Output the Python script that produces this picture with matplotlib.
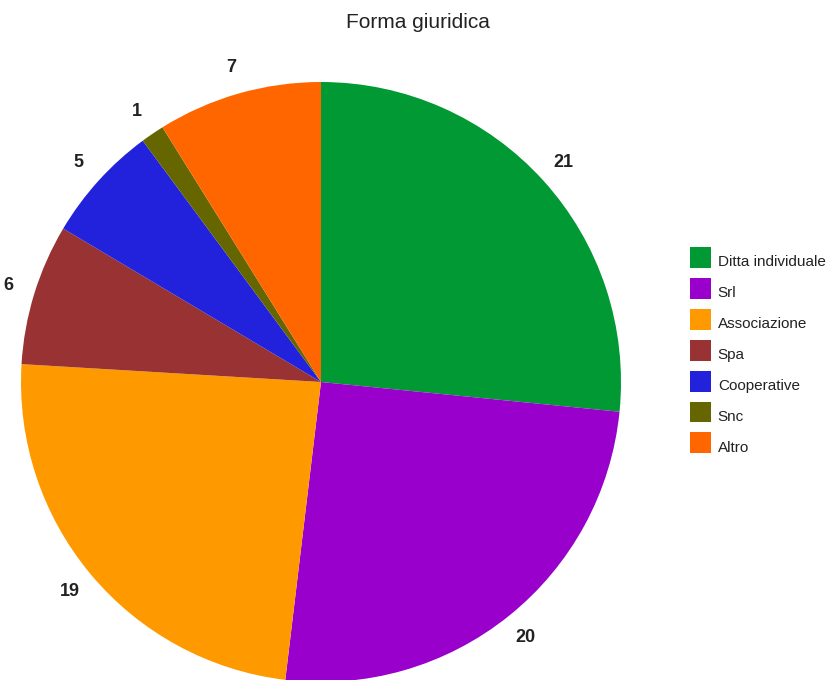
import matplotlib.pyplot as plt
from matplotlib.patches import Patch
from matplotlib.transforms import ScaledTranslation

plt.rcParams["font.family"] = ["Liberation Sans", "DejaVu Sans"]

categories = ["Ditta individuale", "Srl", "Associazione", "Spa", "Cooperative", "Snc", "Altro"]
counts = [21, 20, 19, 6, 5, 1, 7]
colors = ["#009933", "#9900cc", "#ff9900", "#993333", "#2222dd", "#666600", "#ff6600"]

W, H = 827, 680
fig = plt.figure(figsize=(W / 100, H / 100), dpi=100)
ax = fig.add_axes([0, 0, 1, 1])

# pie drawn in pixel-like data coordinates, y pointing up
cx, cy, r = 321, H - 382, 300
wedges, texts = ax.pie(
    counts,
    colors=colors,
    labels=[str(c) for c in counts],
    startangle=90,
    counterclock=False,
    center=(cx, cy),
    radius=r,
    labeldistance=1.09,
    wedgeprops=dict(linewidth=0),
    textprops=dict(ha="center", va="center", fontsize=13, fontweight="bold", color="#222222"),
)
ax.set_xlim(0, W)
ax.set_ylim(0, H)
ax.set_aspect("equal")
ax.axis("off")

fig.text(418 / W, 1 - 23 / H, "Forma giuridica", ha="center", va="center",
         fontsize=15, color="#222222")

handles = [Patch(facecolor=c, edgecolor="none") for c in colors]
leg = fig.legend(
    handles, categories,
    loc="upper left",
    bbox_to_anchor=(690 / W, 1 - 247 / H),
    frameon=False,
    fontsize=11,
    handlelength=1.37,
    handleheight=1.735,
    handletextpad=0.45,
    labelspacing=0.65,
    borderpad=0,
    borderaxespad=0,
    labelcolor="#222222",
)
# sit the labels a little lower, near the bottom of each swatch
shift = ScaledTranslation(0, -4 / 100, fig.dpi_scale_trans)
for t in leg.get_texts():
    t.set_transform(t.get_transform() + shift)

fig.savefig("out.png", dpi=100)
